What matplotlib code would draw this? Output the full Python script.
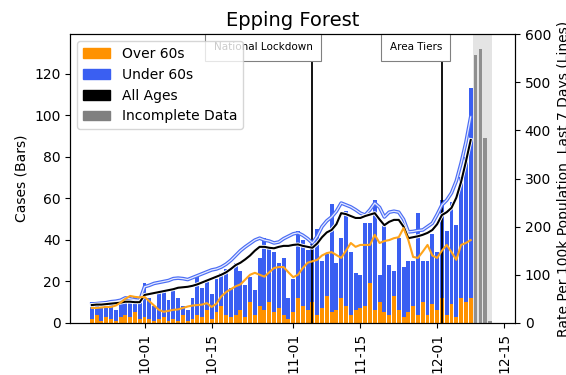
import numpy as np
import pandas as pd
import matplotlib
matplotlib.use("Agg")
import matplotlib.pyplot as plt
import matplotlib.dates as mdates
import matplotlib.patches as mpatches
import matplotlib.patheffects as pe

area = "Epping Forest"

# daily cases (bars), 2020-09-20 .. 2020-12-08
total_cases = [10, 9, 7, 10, 9, 6, 10, 12, 11, 13, 11,
               19, 12, 8, 15, 16, 11, 16, 12, 8, 6,
               12, 23, 17, 21, 14, 21, 24, 26, 17, 29,
               25, 18, 22, 16, 31, 41, 36, 34, 29, 31, 12,
               21, 44, 40, 35, 38, 45, 30, 33, 57, 29,
               41, 54, 34, 24, 23, 48, 48, 59, 23, 48,
               28, 25, 41, 27, 30, 30, 53, 30, 30, 43,
               34, 59, 44, 58, 47, 70, 80, 113]
over60_cases = [2, 4, 1, 3, 2, 1, 3, 4, 3, 5, 2,
                3, 2, 1, 2, 3, 1, 2, 1, 4, 1,
                2, 4, 3, 6, 2, 5, 8, 4, 3, 4,
                6, 3, 10, 4, 8, 6, 10, 5, 7, 4, 2,
                5, 12, 8, 6, 10, 4, 7, 13, 5, 6,
                12, 8, 4, 6, 7, 8, 19, 6, 10, 5,
                4, 13, 6, 3, 5, 8, 4, 10, 4, 9,
                6, 12, 4, 9, 3, 12, 10, 12]

# incomplete days 2020-12-09 .. 2020-12-12
incomplete_cases = [129, 132, 89, 1]

# 7 day rates per 100k (lines)
rate_under60 = [39, 40, 41, 42, 44, 45, 47, 52, 50, 48, 47,
                75, 78, 82, 84, 86, 88, 92, 93, 92, 90,
                94, 98, 102, 106, 110, 112, 116, 122, 130, 140,
                150, 158, 165, 172, 176, 172, 170, 166, 168, 175, 180,
                185, 187, 182, 175, 166, 180, 200, 212, 220, 232,
                249, 245, 241, 235, 228, 224, 235, 249, 240, 220,
                230, 232, 230, 215, 189, 190, 192, 193, 200, 207,
                225, 245, 255, 270, 295, 332, 375, 428]
rate_all = [37, 38, 38, 39, 40, 41, 42, 44, 44, 43, 43,
            58, 60, 62, 64, 66, 68, 70, 73, 74, 75,
            77, 80, 84, 88, 92, 96, 100, 105, 112, 120,
            125, 132, 140, 150, 158, 158, 156, 155, 158, 160, 160,
            162, 163, 160, 158, 156, 165, 178, 188, 193, 205,
            228, 226, 222, 218, 218, 222, 225, 228, 215, 203,
            210, 214, 214, 200, 176, 178, 180, 183, 187, 193,
            205, 224, 230, 239, 260, 293, 335, 380]
rate_over60 = [31, 31, 32, 33, 33, 36, 42, 50, 56, 54, 53,
               54, 45, 36, 27, 23, 25, 27, 28, 31, 34,
               36, 37, 38, 41, 33, 40, 55, 64, 70, 76,
               80, 90, 100, 104, 100, 96, 105, 114, 116, 116, 105,
               95, 100, 114, 125, 128, 131, 140, 145, 147, 141,
               135, 150, 166, 158, 162, 162, 162, 183, 166, 170,
               172, 176, 178, 197, 172, 137, 135, 148, 162, 140,
               135, 150, 162, 147, 131, 162, 166, 172]

events = [("2020-11-05", "National Lockdown"), ("2020-12-02", "Area Tiers")]

dates = pd.date_range("2020-09-20", periods=len(total_cases), freq="D")
inc_dates = pd.date_range(dates[-1] + pd.Timedelta(days=1), periods=len(incomplete_cases), freq="D")
over60 = np.array(over60_cases)
under60 = np.array(total_cases) - over60

c_orange = "#ff9200"
c_blue = "#3a5ff2"

fig, ax = plt.subplots(figsize=(5.66, 3.75), dpi=100)
fig.subplots_adjust(left=0.124, right=0.91, top=0.909, bottom=0.139)

ax.bar(dates, over60, width=0.82, color=c_orange)
ax.bar(dates, under60, width=0.82, bottom=over60, color=c_blue)
ax.axvspan(inc_dates[0] - pd.Timedelta(hours=12), inc_dates[-1] + pd.Timedelta(hours=12),
           color="lightgrey", alpha=0.6, lw=0)
ax.bar(inc_dates, incomplete_cases, width=0.7, color="grey", alpha=0.85)

for d, label in events:
    d = pd.Timestamp(d)
    ax.axvline(d, color="black", lw=1.3)
    ax.text(d, 0.972, label, transform=ax.get_xaxis_transform(), ha="right", va="top",
            fontsize=7.5, bbox=dict(boxstyle="square,pad=0.8", fc="white", ec="grey", lw=0.8))

ax.set_ylim(0, 139)
ax.set_yticks(range(0, 121, 20))
ax.set_ylabel("Cases (Bars)")
ax.set_xlim(pd.Timestamp("2020-09-15 12:00"), pd.Timestamp("2020-12-17 06:00"))
ax.xaxis.set_major_locator(mdates.DayLocator(bymonthday=[1, 15]))
ax.xaxis.set_major_formatter(mdates.DateFormatter("%m-%d"))
plt.setp(ax.get_xticklabels(), rotation=90)
ax.set_title(area, fontsize=14)

ax2 = ax.twinx()
ax2.plot(dates, rate_under60, color="#e4e9ff", lw=0.9,
         path_effects=[pe.Stroke(linewidth=2.6, foreground="#4a6cf4"), pe.Normal()])
ax2.plot(dates, rate_all, color="black", lw=1.5,
         path_effects=[pe.Stroke(linewidth=2.8, foreground="white"), pe.Normal()])
ax2.plot(dates, rate_over60, color="#ffa41a", lw=1.5)
ax2.set_ylim(0, 600)
ax2.set_ylabel("Rate Per 100k Population, Last 7 Days (Lines)")

handles = [mpatches.Patch(color=c_orange, label="Over 60s"),
           mpatches.Patch(color=c_blue, label="Under 60s"),
           mpatches.Patch(color="black", label="All Ages"),
           mpatches.Patch(color="grey", label="Incomplete Data")]
ax2.legend(handles=handles, loc="upper left", fontsize=10)

fig.savefig("out.png")
